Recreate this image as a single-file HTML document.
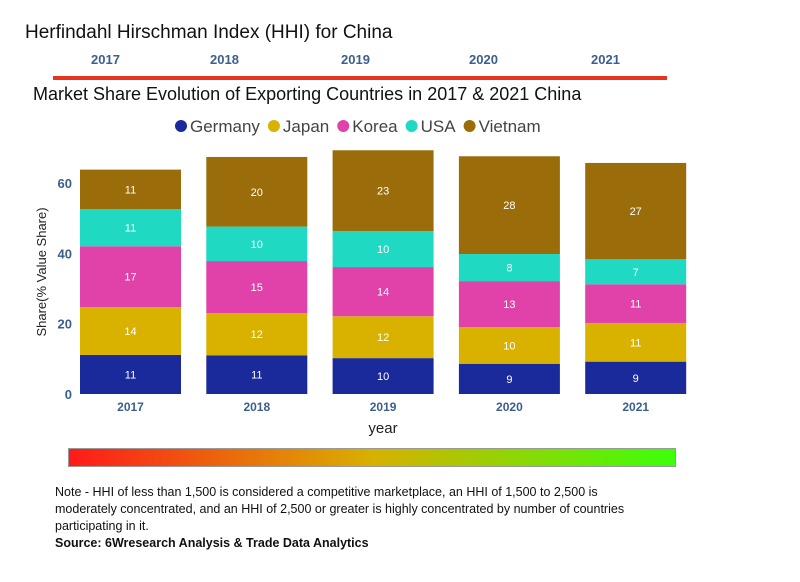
<!DOCTYPE html>
<html><head><meta charset="utf-8"><style>
body{margin:0;background:#fff;font-family:"Liberation Sans",sans-serif;}
#wrap{position:relative;width:800px;height:582px;overflow:hidden;background:#fff;}
.t{position:absolute;white-space:nowrap;}
</style></head><body>
<div id="wrap">
<div class="t" style="left:25px;top:22px;font-size:19px;color:#111;">Herfindahl Hirschman Index (HHI) for China</div>
<div class="t" style="left:91px;top:52px;font-size:13px;font-weight:bold;color:#3a5f8f;">2017</div>
<div class="t" style="left:210px;top:52px;font-size:13px;font-weight:bold;color:#3a5f8f;">2018</div>
<div class="t" style="left:341px;top:52px;font-size:13px;font-weight:bold;color:#3a5f8f;">2019</div>
<div class="t" style="left:469px;top:52px;font-size:13px;font-weight:bold;color:#3a5f8f;">2020</div>
<div class="t" style="left:591px;top:52px;font-size:13px;font-weight:bold;color:#3a5f8f;">2021</div>
<div style="position:absolute;left:53px;top:76px;width:614px;height:4px;background:#e8341c;"></div>
<div class="t" style="left:33px;top:84px;font-size:18px;color:#111;">Market Share Evolution of Exporting Countries in 2017 &amp; 2021 China</div>
<svg id="svg" width="800" height="582" style="position:absolute;left:0;top:0;"></svg>
<div style="position:absolute;left:68px;top:448px;width:606px;height:17px;background:linear-gradient(to right,#ff1a1a,#d8b000 50%,#3cff0a);border:1px solid #999;"></div>
<div class="t" style="left:55px;top:484px;font-size:12.5px;line-height:17px;color:#111;white-space:normal;width:605px;">Note - HHI of less than 1,500 is considered a competitive marketplace, an HHI of 1,500 to 2,500 is moderately concentrated, and an HHI of 2,500 or greater is highly concentrated by number of countries participating in it.<br><b>Source: 6Wresearch Analysis &amp; Trade Data Analytics</b></div>
</div>
<script>
const years=["2017","2018","2019","2020","2021"];
const seriesNames=["Germany","Japan","Korea","USA","Vietnam"];
const germany=[11.1,11,10.2,8.6,9.2];
const japan=[13.6,12,11.9,10.4,11];
const korea=[17.3,14.8,14,13.1,11];
const usa=[10.6,9.8,10.2,7.7,7.1];
const vietnam=[11.2,19.8,23,27.8,27.4];
const yTicks=[0,20,40,60];
const colors=["#1b2a9a","#d9b200","#e042aa","#1fd9c2","#9a6d0a"];
const series=[germany,japan,korea,usa,vietnam];
const NS="http://www.w3.org/2000/svg";
const svg=document.getElementById("svg");
const y0=394,pxPer=3.517;
function yS(v){return y0-v*pxPer;}
function xS(i){return 80+i*126.3;}
const bw=101;
function mk(tag,attrs){const e=document.createElementNS(NS,tag);for(const k in attrs)e.setAttribute(k,attrs[k]);svg.appendChild(e);return e;}
yTicks.forEach(t=>{const e=mk("text",{x:72,y:yS(t)+5,"text-anchor":"end","font-size":13,"font-weight":"bold",fill:"#3a5f8f","font-family":"Liberation Sans"});e.textContent=t;

});
years.forEach((yr,i)=>{let cum=0;
series.forEach((s,j)=>{const v=s[i];const r=mk("rect",{x:xS(i),y:yS(cum+v),width:bw,height:v*pxPer,fill:colors[j]});


const tx=mk("text",{x:xS(i)+bw/2,y:yS(cum+v/2)+4,"text-anchor":"middle","font-size":11,fill:"#fff","font-family":"Liberation Sans"});tx.textContent=Math.round(v);


cum+=v;});
const xl=mk("text",{x:xS(i)+bw/2,y:411,"text-anchor":"middle","font-size":12,"font-weight":"bold",fill:"#3a5f8f","font-family":"Liberation Sans"});xl.textContent=yr;

});
const xt=mk("text",{x:383,y:433,"text-anchor":"middle","font-size":15,fill:"#222","font-family":"Liberation Sans"});xt.textContent="year";


const yt=mk("text",{x:0,y:0,"text-anchor":"middle","font-size":13,fill:"#222","font-family":"Liberation Sans",transform:"translate(46,272) rotate(-90)"});yt.textContent="Share(% Value Share)";


let x=175;
seriesNames.forEach((n,j)=>{const c=mk("circle",{cx:x+6,cy:126,r:6,fill:colors[j]});


const t=mk("text",{x:x+15,y:132,"font-size":17,fill:"#444","font-family":"Liberation Sans"});t.textContent=n;


x+=15+t.getComputedTextLength()+8;});
</script>
</body></html>
